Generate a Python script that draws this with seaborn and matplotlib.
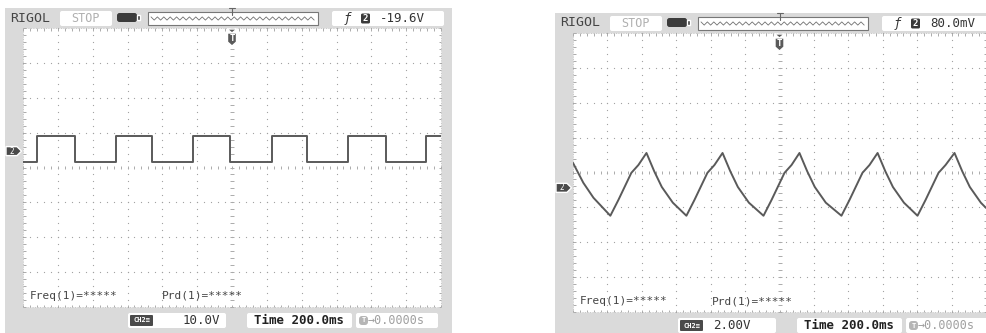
import numpy as np
import matplotlib
matplotlib.use("Agg")
import matplotlib.pyplot as plt
import seaborn as sns
from matplotlib.patches import Rectangle, FancyBboxPatch, Polygon
from matplotlib.collections import LineCollection

# Voie 2 gauche : signal carré
sq_t = [-1200, -1120, -902, -666, -458, -222, -10, 232, 432, 668, 886, 1116, 1200]
sq_v = [-3.15, 4.3, -3.15, 4.3, -3.15, 4.3, -3.15, 4.3, -3.15, 4.3, -3.15, 4.3, 4.3]

# Voie 2 droite : signal triangulaire (charge / décharge RC)
tri_t = [-1200, -1140, -1081, -983,
         -936, -861, -820, -773, -728, -684, -620, -541,
         -494, -419, -378, -331, -286, -242, -178, -93,
         -46, 29, 70, 116, 161, 205, 269, 360,
         407, 482, 523, 570, 615, 659, 723, 802,
         849, 924, 965, 1017, 1062, 1106, 1170, 1200]
tri_v = [1.43, 0.29, -0.57, -1.6,
         -0.69, 0.86, 1.31, 2.0, 0.95, 0.05, -0.85, -1.6,
         -0.69, 0.86, 1.31, 2.0, 0.95, 0.05, -0.85, -1.6,
         -0.69, 0.86, 1.31, 2.0, 0.95, 0.05, -0.85, -1.6,
         -0.69, 0.86, 1.31, 2.0, 0.95, 0.05, -0.85, -1.6,
         -0.69, 0.86, 1.31, 2.0, 0.95, 0.05, -0.85, -1.15]

# Réglages affichés à l'écran
left_vdiv, right_vdiv = 10.0, 2.0
left_ground, right_ground = 0.47, -0.44   # position de la masse (divisions)
left_trig, right_trig = "-19.6V", "80.0mV"
left_scale, right_scale = "10.0V", "2.00V"
timebase = "Time 200.0ms"
trig_offset = "→0.0000s"
freq_label = "Freq(1)=*****"
prd_label = "Prd(1)=*****"

W, H = 987, 333
FRAME = "#dadada"
DARK = "#454545"
TRACE = "#5a5a5a"
DOT = "#a0a0a0"

sns.set_theme(style="white")
plt.rcParams["font.family"] = ["DejaVu Sans Mono", "DejaVu Sans"]

fig = plt.figure(figsize=(W / 100, H / 100), dpi=100)
fig.patch.set_facecolor("white")
bg = fig.add_axes([0, 0, 1, 1])
bg.set_xlim(0, W)
bg.set_ylim(H, 0)
bg.axis("off")


def box(x, y, w, h, fc="white", ec="none", r=2, lw=0.8, z=2):
    bg.add_patch(FancyBboxPatch((x, y), w, h, boxstyle=f"round,pad=0,rounding_size={r}",
                                fc=fc, ec=ec, lw=lw, zorder=z))


def draw_panel(gx, gy, gw, gh, t, v, vdiv, ground, trig, scale, scale_x, steps):
    dx, dy = gw / 12, gh / 8

    # --- cadre gris et écran blanc
    bg.add_patch(Rectangle((gx - 18, gy - 20), 447, 400, fc=FRAME, ec="none", zorder=1))
    bg.add_patch(Rectangle((gx, gy), gw, gh, fc="white", ec="#bdbdbd", lw=0.6,
                           ls=(0, (1, 2)), zorder=2))

    # --- grille pointillée
    for i in range(1, 12):
        if i == 6:
            continue
        ys = gy + np.arange(0, 41) * dy / 5
        bg.scatter(np.full_like(ys, gx + i * dx), ys, s=0.8, color=DOT, lw=0, zorder=3)
    for j in range(1, 8):
        if j == 4:
            continue
        xs = gx + np.arange(0, 61) * dx / 5
        bg.scatter(xs, np.full_like(xs, gy + j * dy), s=0.8, color=DOT, lw=0, zorder=3)

    # --- axes centraux et bords gradués
    segs = []
    cx, cy = gx + gw / 2, gy + gh / 2
    for k in range(61):
        x = gx + k * dx / 5
        segs.append([(x, cy - 1.8), (x, cy + 1.8)])
        segs.append([(x, gy), (x, gy + 2.5)])
        segs.append([(x, gy + gh), (x, gy + gh - 2.5)])
    for k in range(41):
        y = gy + k * dy / 5
        segs.append([(cx - 2, y), (cx + 2, y)])
        segs.append([(gx, y), (gx + 2.5, y)])
        segs.append([(gx + gw, y), (gx + gw - 2.5, y)])
    bg.add_collection(LineCollection(segs, colors="#ababab", linewidths=0.7, zorder=3))

    # --- barre du haut
    bg.text(gx - 13, gy - 10, "RIGOL", fontsize=9.5, color=DARK, va="center", ha="left", zorder=4)
    box(gx + 37, gy - 17, 52, 15)
    bg.text(gx + 63, gy - 9.5, "STOP", fontsize=8.5, color="#b0b0b0", va="center", ha="center", zorder=4)
    box(gx + 94, gy - 15, 20, 9, fc="#3c3c3c", r=2.5)
    bg.add_patch(Rectangle((gx + 114, gy - 13), 3, 5, fc="#3c3c3c", zorder=3))
    bg.add_patch(Rectangle((gx + 125, gy - 16), 170, 13, fc="white", ec="#777777", lw=0.8, zorder=3))
    zx = np.arange(gx + 128, gx + 292, 3.2)
    zy = gy - 9.5 + np.where(np.arange(len(zx)) % 2 == 0, -1.6, 1.6)
    bg.plot(zx, zy, color="#707070", lw=0.6, zorder=4)
    bg.plot([cx, cx], [gy - 20, gy - 13], color="#666666", lw=0.8, zorder=4)
    bg.plot([cx - 3, cx + 3], [gy - 20, gy - 20], color="#666666", lw=0.8, zorder=4)
    box(gx + 309, gy - 17, 112, 15)
    bg.text(gx + 324, gy - 9.5, "ƒ", fontsize=9, color="#333333", va="center", ha="center",
            style="italic", zorder=4)
    box(gx + 338, gy - 14.5, 9, 10, fc="#3a3a3a", r=1.5, z=3)
    bg.text(gx + 342.5, gy - 9.5, "2", fontsize=6.5, color="white", va="center", ha="center",
            fontweight="bold", zorder=4)
    bg.text(gx + 357, gy - 9.5, trig, fontsize=9, color="#333333", va="center", ha="left", zorder=4)

    # --- repère de déclenchement T
    bg.add_patch(Polygon([(cx - 5, gy + 1), (cx + 5, gy + 1), (cx, gy + 5)], fc="#5a5a5a", zorder=5))
    bg.add_patch(Polygon([(cx - 4.5, gy + 5), (cx + 4.5, gy + 5), (cx + 4.5, gy + 14), (cx, gy + 18),
                          (cx - 4.5, gy + 14)], fc="#5a5a5a", zorder=5))
    bg.text(cx, gy + 10.5, "T", fontsize=6.5, color="white", va="center", ha="center",
            fontweight="bold", zorder=6)

    # --- repère de masse voie 2
    yg = cy - ground * dy
    bg.add_patch(Polygon([(gx - 17, yg - 4.5), (gx - 6, yg - 4.5), (gx - 1.5, yg), (gx - 6, yg + 4.5),
                          (gx - 17, yg + 4.5)], fc="#4a4a4a", zorder=5))
    bg.text(gx - 11, yg, "2", fontsize=5.5, color="white", va="center", ha="center", zorder=6)

    # --- mesures et barre du bas
    bg.text(gx + 7, gy + 268, freq_label, fontsize=8, color=DARK, va="center", ha="left", zorder=4)
    bg.text(gx + 139, gy + 268, prd_label, fontsize=8, color=DARK, va="center", ha="left", zorder=4)
    box(gx + 105, gy + 285, 98, 15)
    box(gx + 107, gy + 287, 23, 11, fc="#4a4a4a", r=1, z=3)
    bg.text(gx + 118.5, gy + 292.5, "CH2≡", fontsize=5, color="white", va="center", ha="center",
            fontweight="bold", zorder=4)
    bg.text(gx + scale_x, gy + 292.5, scale, fontsize=9, color="#333333", va="center", ha="left", zorder=4)
    box(gx + 224, gy + 285, 105, 15)
    bg.text(gx + 276.5, gy + 292.5, timebase, fontsize=9, color="#222222", va="center", ha="center",
            fontweight="bold", zorder=4)
    box(gx + 333, gy + 285, 82, 15)
    box(gx + 336, gy + 288, 9, 9, fc="#b5b5b5", r=3, z=3)
    bg.text(gx + 340.5, gy + 292.5, "T", fontsize=5, color="white", va="center", ha="center",
            fontweight="bold", zorder=4)
    bg.text(gx + 345, gy + 292.5, trig_offset, fontsize=8.5, color="#a0a0a0", va="center", ha="left", zorder=4)

    # --- trace du signal
    ax = fig.add_axes([gx / W, 1 - (gy + gh) / H, gw / W, gh / H])
    ax.patch.set_alpha(0)
    ax.set_xlim(-6 * 200, 6 * 200)
    ax.set_ylim((-4 - ground) * vdiv, (4 - ground) * vdiv)
    ax.axis("off")
    kw = dict(drawstyle="steps-post") if steps else {}
    sns.lineplot(x=t, y=v, ax=ax, color=TRACE, lw=1.4, estimator=None, **kw)
    return ax


draw_panel(23, 28, 418, 279, sq_t, sq_v, left_vdiv, left_ground, left_trig, left_scale, 160, True)
draw_panel(573, 33, 413, 279, tri_t, tri_v, right_vdiv, right_ground, right_trig, right_scale, 140, False)

fig.savefig("out.png", dpi=100)
